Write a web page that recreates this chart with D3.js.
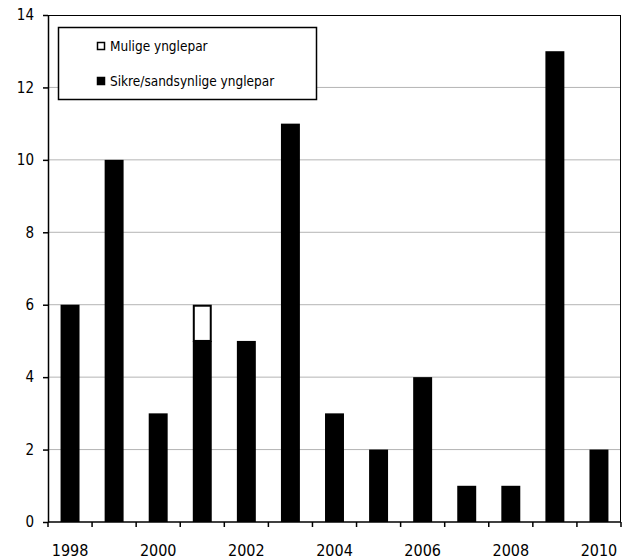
<!DOCTYPE html>
<html>
<head>
<meta charset="utf-8">
<script src="https://cdn.jsdelivr.net/npm/d3@7"></script>
<style>
  html, body { margin: 0; padding: 0; background: #fff; }
  svg { display: block; font-family: "DejaVu Sans Condensed", "DejaVu Sans", Verdana, sans-serif; }
</style>
</head>
<body>
<svg id="chart" width="624" height="559"></svg>
<script>
// Breeding pairs per year
const years = ["1998","1999","2000","2001","2002","2003","2004","2005","2006","2007","2008","2009","2010"];
const sikre = [6, 10, 3, 5, 5, 11, 3, 2, 4, 1, 1, 13, 2];   // sure / probable pairs
const mulige = [0, 0, 0, 1, 0, 0, 0, 0, 0, 0, 0, 0, 0];     // possible pairs
const yTicks = [0, 2, 4, 6, 8, 10, 12, 14];
const xLabels = ["1998","2000","2002","2004","2006","2008","2010"];
const seriesNames = ["Mulige ynglepar", "Sikre/sandsynlige ynglepar"];

const svg = d3.select("#chart");
const W = 624, H = 559;
const margin = { top: 15, right: 3, bottom: 37, left: 48 };
const iw = W - margin.left - margin.right;
const ih = H - margin.top - margin.bottom;
const FONT = "DejaVu Sans Condensed, DejaVu Sans, sans-serif";

const g = svg.append("g").attr("transform", `translate(${margin.left},${margin.top})`);

const x = d3.scaleBand().domain(years).range([0, iw]).paddingInner(0.57).paddingOuter(0.285);
const xOuter = d3.scaleBand().domain(years).range([0, iw]);
const y = d3.scaleLinear().domain([0, 14]).range([ih, 0]);

// gridlines
g.append("g").selectAll("line")
  .data(yTicks.filter(t => t > 0 && t < 14))
  .join("line")
  .attr("x1", 0).attr("x2", iw)
  .attr("y1", d => y(d)).attr("y2", d => y(d))
  .attr("stroke", "#b4b4b4").attr("stroke-width", 1);

// stacked bars
const rows = years.map((yr, i) => ({ yr, s: sikre[i], m: mulige[i] }));
g.append("g").selectAll("rect.s")
  .data(rows).join("rect")
  .attr("x", d => x(d.yr)).attr("width", x.bandwidth())
  .attr("y", d => y(d.s)).attr("height", d => y(0) - y(d.s))
  .attr("fill", "#000");
g.append("g").selectAll("rect.m")
  .data(rows.filter(d => d.m > 0)).join("rect")
  .attr("x", d => x(d.yr) + 1).attr("width", x.bandwidth() - 2)
  .attr("y", d => y(d.s + d.m) + 1).attr("height", d => y(d.s) - y(d.s + d.m) - 1)
  .attr("fill", "#fff").attr("stroke", "#000").attr("stroke-width", 2);

// frame top/right
g.append("line").attr("x1", 0).attr("x2", iw).attr("y1", 0.5).attr("y2", 0.5).attr("stroke", "#000");
g.append("line").attr("x1", iw - 0.5).attr("x2", iw - 0.5).attr("y1", 0).attr("y2", ih).attr("stroke", "#000");

// y axis
const yAxis = g.append("g").call(d3.axisLeft(y).tickValues(yTicks).tickSize(5).tickSizeOuter(0).tickPadding(9));
yAxis.select(".domain").attr("stroke", "#000").attr("stroke-width", 1.5);
yAxis.selectAll(".tick line").attr("stroke", "#000").attr("stroke-width", 1.5);
yAxis.selectAll("text").attr("font-size", 15).attr("fill", "#000").attr("font-family", FONT);

// x axis: ticks on category boundaries, labels every other year
const xa = g.append("g").attr("transform", `translate(0,${ih})`);
xa.append("line").attr("x1", 0).attr("x2", iw).attr("stroke", "#000").attr("stroke-width", 1.5);
const bounds = years.map(yr => xOuter(yr)).concat([iw]);
xa.selectAll("line.t").data(bounds).join("line").attr("class", "t")
  .attr("x1", d => d).attr("x2", d => d).attr("y1", 0).attr("y2", 5)
  .attr("stroke", "#000").attr("stroke-width", 1.5);
xa.selectAll("text").data(xLabels).join("text")
  .attr("x", d => xOuter(d) + xOuter.bandwidth() / 2)
  .attr("y", 28).attr("dy", "0.35em")
  .attr("text-anchor", "middle").attr("font-size", 16).attr("fill", "#000")
  .attr("font-family", FONT)
  .text(d => d);

// legend
const lg = g.append("g").attr("transform", "translate(10,12)");
lg.append("rect").attr("x", 0.5).attr("y", 0.5).attr("width", 258).attr("height", 72)
  .attr("fill", "#fff").attr("stroke", "#000").attr("stroke-width", 1.5);
const items = lg.selectAll("g.item").data(seriesNames).join("g")
  .attr("transform", (d, i) => `translate(39,${19 + i * 35})`);
items.append("rect").attr("x", 0.5).attr("y", -3.5).attr("width", 7).attr("height", 7)
  .attr("fill", (d, i) => i === 0 ? "#fff" : "#000").attr("stroke", "#000").attr("stroke-width", 1.5);
items.append("text").attr("x", 13).attr("dy", "0.35em").attr("font-size", 13.5).attr("fill", "#000")
  .attr("font-family", FONT)
  .text(d => d);
</script>
</body>
</html>
